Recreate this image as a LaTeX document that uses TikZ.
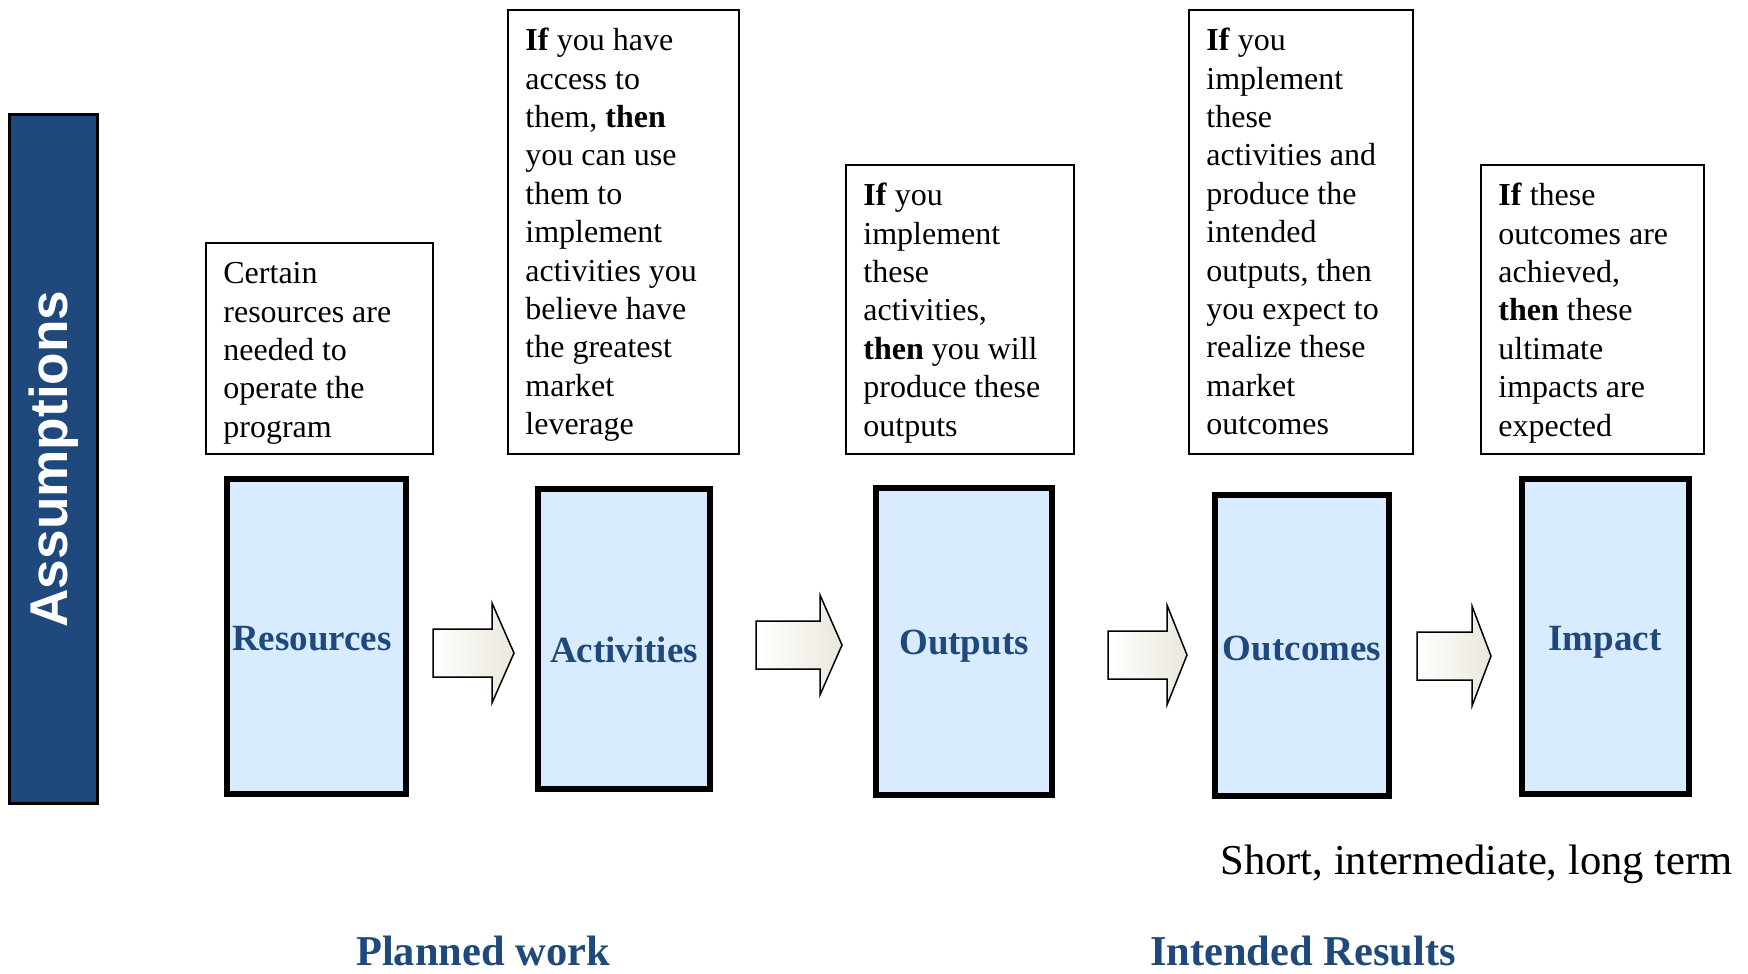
\documentclass[tikz,border=0pt]{standalone}
\usepackage{fontspec}
\setmainfont{Liberation Serif}
\newfontfamily\barfont{Liberation Sans}
\usetikzlibrary{calc}
\definecolor{navy}{RGB}{31,73,125}
\definecolor{paleblue}{RGB}{217,236,255}
\definecolor{arrowend}{RGB}{234,231,219}

% block arrow: shaft start, head base, tip, centre line
\newcommand\blockarrow[4]{%
  \draw[flow] (#1,{#4-24}) -- (#2,{#4-24}) -- (#2,{#4-50}) -- (#3,#4)
    -- (#2,{#4+50}) -- (#2,{#4+24}) -- (#1,{#4+24}) -- cycle;}

\begin{document}
\begin{tikzpicture}[x=0.5pt,y=-0.5pt,
  note/.style={draw=black, line width=1pt, fill=white, inner sep=0},
  notetext/.style={anchor=north west, inner sep=0, align=left,
    font=\fontsize{16}{19.2}\selectfont},
  stage/.style={draw=black, line width=3pt, fill=paleblue, inner sep=0},
  stagelabel/.style={font=\fontsize{18.5}{22}\selectfont\bfseries, text=navy},
  flow/.style={draw=black, line width=0.75pt, left color=white, right color=arrowend},
  heading/.style={font=\fontsize{21.25}{25}\selectfont\bfseries, text=navy, anchor=base},
]
\useasboundingbox (0,0) rectangle (1748,973);

% assumptions bar
\node[draw=black, line width=1.5pt, fill=navy, minimum width=44pt,
  minimum height=344.5pt, inner sep=0] (bar) at (53.5,459) {};
\node[rotate=90, text=white, font=\barfont\bfseries\fontsize{26.6}{30}\selectfont]
  (bartext) at (bar.center) {Assumptions};

% explanatory notes
\node[note, minimum width=113.5pt, minimum height=105.5pt] (t1) at (319.5,348.5) {};
\node[note, minimum width=115.5pt, minimum height=222pt]   (t2) at (623.5,232) {};
\node[note, minimum width=114pt,   minimum height=144.5pt] (t3) at (960,309.5) {};
\node[note, minimum width=112pt,   minimum height=222pt]   (t4) at (1301,232) {};
\node[note, minimum width=111.5pt, minimum height=144.5pt] (t5) at (1592.5,309.5) {};

\node[notetext] (n1) at ($(t1.north west)+(18,0)$)
  {\rule{0pt}{20.6pt}Certain\\resources are\\needed to\\operate the\\program};
\node[notetext] (n2) at ($(t2.north west)+(18,0)$)
  {\rule{0pt}{20.6pt}\textbf{If} you have\\access to\\them, \textbf{then}\\you can use\\them to\\implement\\activities you\\believe have\\the greatest\\market\\leverage};
\node[notetext] (n3) at ($(t3.north west)+(18,0)$)
  {\rule{0pt}{20.6pt}\textbf{If} you\\implement\\these\\activities,\\\textbf{then} you will\\produce these\\outputs};
\node[notetext] (n4) at ($(t4.north west)+(18,0)$)
  {\rule{0pt}{20.6pt}\textbf{If} you\\implement\\these\\activities and\\produce the\\intended\\outputs, then\\you expect to\\realize these\\market\\outcomes};
\node[notetext] (n5) at ($(t5.north west)+(18,0)$)
  {\rule{0pt}{20.6pt}\textbf{If} these\\outcomes are\\achieved,\\\textbf{then} these\\ultimate\\impacts are\\expected};

% stages
\node[stage, minimum width=89.5pt, minimum height=157.5pt] (b1) at (316,636) {};
\node[stage, minimum width=86pt,   minimum height=150pt]   (b2) at (623.5,638.5) {};
\node[stage, minimum width=88pt,   minimum height=153.5pt] (b3) at (963.5,641) {};
\node[stage, minimum width=87pt,   minimum height=150.5pt] (b4) at (1301.5,645) {};
\node[stage, minimum width=83.5pt, minimum height=157.5pt] (b5) at (1605,636) {};

\node[stagelabel] (l1) at (312,639) {Resources};
\node[stagelabel] (l2) at (624,650) {Activities};
\node[stagelabel] (l3) at (964,646) {Outputs};
\node[stagelabel] (l4) at (1302,648) {Outcomes};
\node[stagelabel] (l5) at (1605,642) {Impact};

% flow arrows between the stages
\blockarrow{433}{492}{514}{653}
\blockarrow{756}{820}{842}{645}
\blockarrow{1108}{1167}{1187}{655}
\blockarrow{1417}{1472}{1491}{656}

% captions
\node[anchor=base west, font=\fontsize{21.3}{25}\selectfont, inner sep=0]
  (term) at (1220,874) {Short, intermediate, long term};
\node[heading, inner sep=0] (planned) at (483,965) {Planned work};
\node[heading, inner sep=0] (results) at (1303,965) {Intended Results};
\end{tikzpicture}
\end{document}
